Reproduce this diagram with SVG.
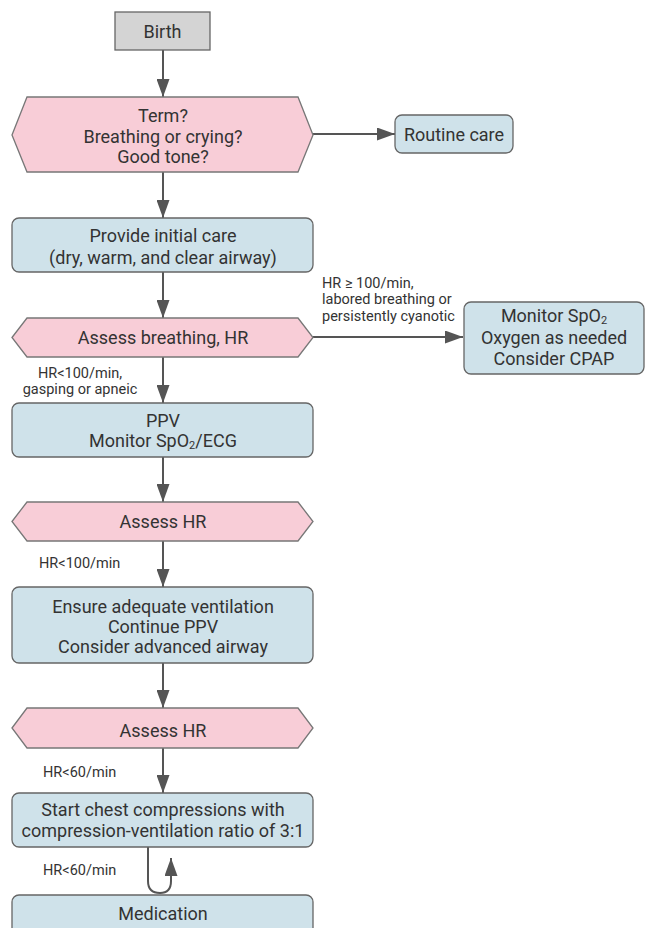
<svg xmlns="http://www.w3.org/2000/svg" width="646" height="928" viewBox="0 0 646 928">
<defs>
<style>
.t{font-family:Roboto,"Noto Sans","DejaVu Sans",sans-serif;font-size:18px;fill:#333;text-anchor:middle}
.l{font-family:Roboto,"Noto Sans","DejaVu Sans",sans-serif;font-size:14.5px;fill:#333}
.box{fill:#cfe2ea;stroke:#666;stroke-width:1.3}
.hex{fill:#f8cdd7;stroke:#777;stroke-width:1.3}
.gray{fill:#d4d4d4;stroke:#666;stroke-width:1.3}
.c{stroke:#555;stroke-width:2;fill:none}
.a{marker-end:url(#ah)}
</style>
<marker id="ah" markerUnits="userSpaceOnUse" markerWidth="18" markerHeight="13" refX="18" refY="6.5" orient="auto">
<path d="M0,0 L18,6.5 L0,13 z" fill="#555"/>
</marker>
</defs>
<rect width="646" height="928" fill="#fff"/>
<g id="connectors">
<line class="c a" x1="163" y1="50" x2="163" y2="97"/>
<line class="c a" x1="313" y1="134" x2="395" y2="134"/>
<line class="c a" x1="163" y1="172" x2="163" y2="218"/>
<line class="c a" x1="163" y1="272" x2="163" y2="318"/>
<line class="c a" x1="313" y1="337" x2="463" y2="337"/>
<line class="c a" x1="163" y1="357" x2="163" y2="403"/>
<line class="c a" x1="163" y1="457" x2="163" y2="502"/>
<line class="c a" x1="163" y1="541" x2="163" y2="587"/>
<line class="c a" x1="163" y1="663" x2="163" y2="708"/>
<line class="c a" x1="163" y1="748" x2="163" y2="793"/>
<path class="c a" d="M148,847 L148,881 Q148,893 160,893 Q171,893 171,881 L171,858"/>
<text class="l" x="80" y="378" text-anchor="middle">HR&lt;100/min,</text>
<text class="l" x="80" y="394" text-anchor="middle">gasping or apneic</text>
<text class="l" x="322" y="288">HR ≥ 100/min,</text>
<text class="l" x="322" y="304">labored breathing or</text>
<text class="l" x="322" y="321">persistently cyanotic</text>
<text class="l" x="39" y="568">HR&lt;100/min</text>
<text class="l" x="43" y="777">HR&lt;60/min</text>
<text class="l" x="43" y="875">HR&lt;60/min</text>
</g>
<g id="birth">
<rect class="gray" x="115" y="12" width="95" height="38"/>
<text class="t" x="162.5" y="38">Birth</text>
</g>
<g id="assess-term">
<polygon class="hex" points="12,135 27,97 298,97 313,135 298,172 27,172"/>
<text class="t" x="163" y="122">Term?</text>
<text class="t" x="163" y="143">Breathing or crying?</text>
<text class="t" x="163" y="163">Good tone?</text>
</g>
<g id="routine-care">
<rect class="box" x="395" y="115" width="118" height="38" rx="7"/>
<text class="t" x="454" y="141">Routine care</text>
</g>
<g id="initial-care">
<rect class="box" x="12" y="218" width="301" height="54" rx="7"/>
<text class="t" x="163" y="242">Provide initial care</text>
<text class="t" x="163" y="264">(dry, warm, and clear airway)</text>
</g>
<g id="assess-breathing">
<polygon class="hex" points="12,337.5 27,318 298,318 313,337.5 298,357 27,357"/>
<text class="t" x="163" y="344">Assess breathing, HR</text>
</g>
<g id="monitor-spo2">
<rect class="box" x="464" y="302" width="180" height="72" rx="7"/>
<text class="t" x="554" y="322">Monitor SpO<tspan font-size="11" dy="1.5">2</tspan></text>
<text class="t" x="554" y="344">Oxygen as needed</text>
<text class="t" x="554" y="365">Consider CPAP</text>
</g>
<g id="ppv">
<rect class="box" x="12" y="403" width="301" height="54" rx="7"/>
<text class="t" x="163" y="427">PPV</text>
<text class="t" x="163" y="447">Monitor SpO<tspan font-size="11" dy="1.5">2</tspan><tspan dy="-1.5">/ECG</tspan></text>
</g>
<g id="assess-hr-1">
<polygon class="hex" points="12,521.5 27,502 298,502 313,521.5 298,541 27,541"/>
<text class="t" x="163" y="528">Assess HR</text>
</g>
<g id="ventilation">
<rect class="box" x="12" y="587" width="301" height="76" rx="7"/>
<text class="t" x="163" y="613">Ensure adequate ventilation</text>
<text class="t" x="163" y="633">Continue PPV</text>
<text class="t" x="163" y="653">Consider advanced airway</text>
</g>
<g id="assess-hr-2">
<polygon class="hex" points="12,728 27,708 298,708 313,728 298,748 27,748"/>
<text class="t" x="163" y="737">Assess HR</text>
</g>
<g id="compressions">
<rect class="box" x="12" y="793" width="301" height="54" rx="7"/>
<text class="t" x="163" y="816">Start chest compressions with</text>
<text class="t" x="163" y="837">compression-ventilation ratio of 3:1</text>
</g>
<g id="medication">
<rect class="box" x="12" y="895" width="301" height="50" rx="7"/>
<text class="t" x="163" y="920">Medication</text>
</g>
</svg>
